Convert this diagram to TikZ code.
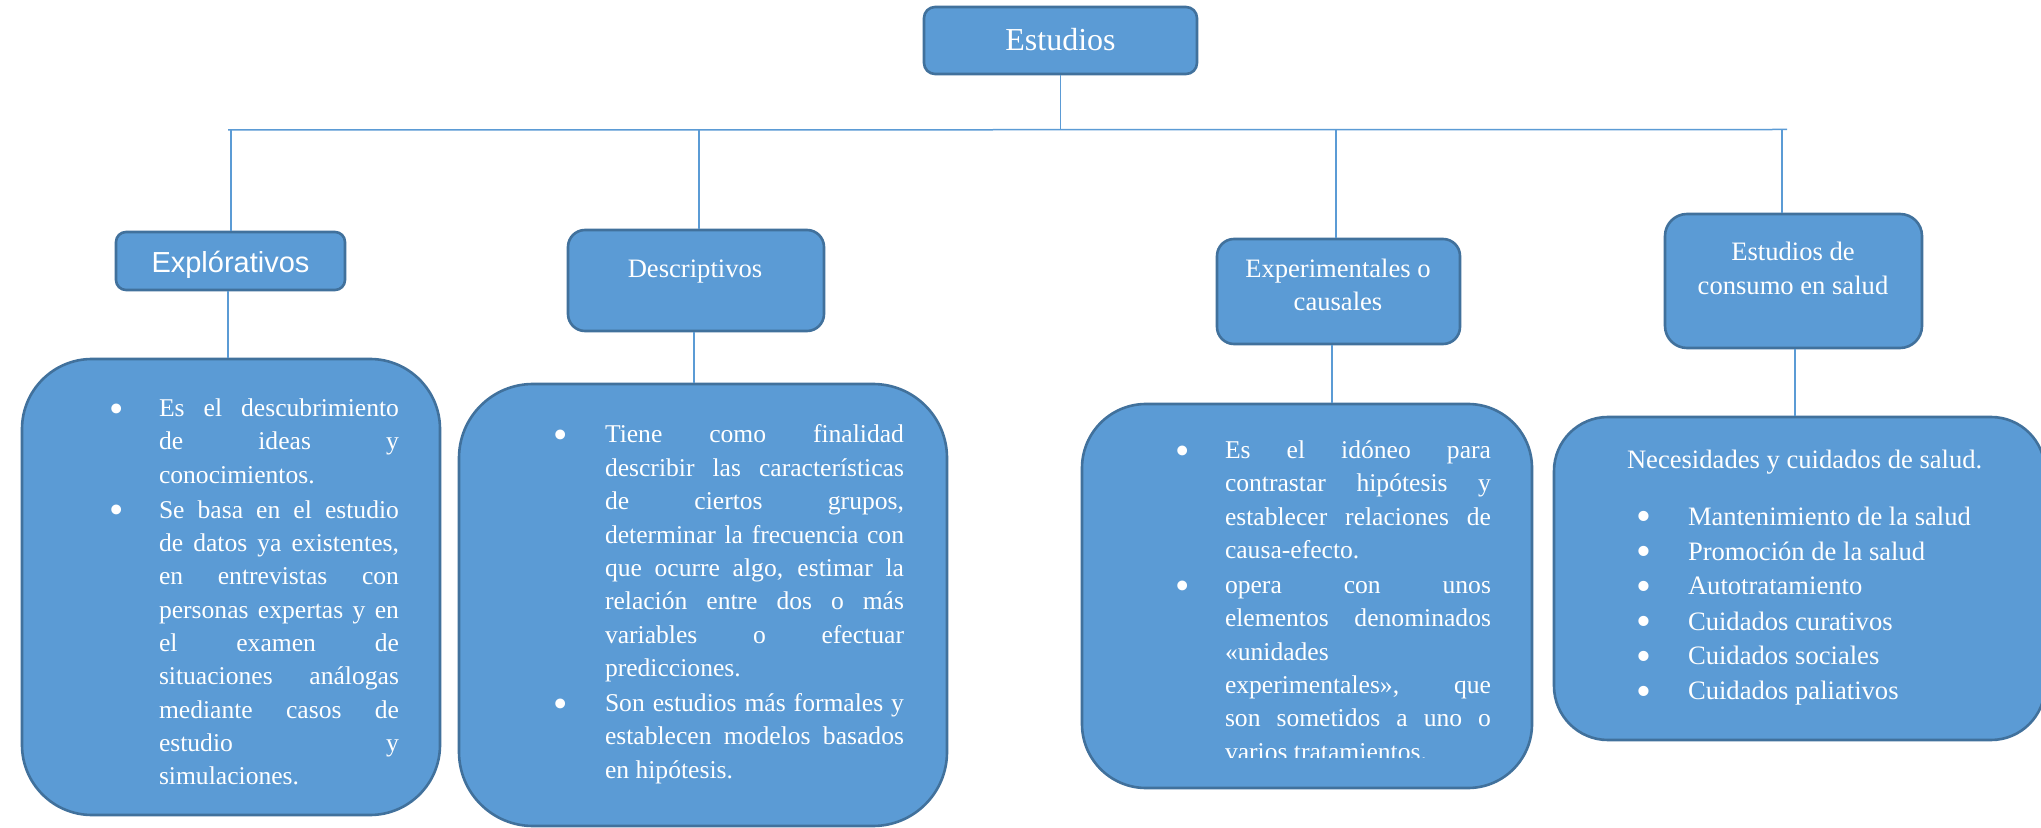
\documentclass[tikz,border=0pt]{standalone}
\usepackage{fontspec}
\usepackage{graphicx}
\setmainfont{Liberation Serif}
\newfontfamily\arialf{Liberation Sans}
\definecolor{bfill}{RGB}{91,155,213}
\definecolor{bdraw}{RGB}{65,113,156}
\definecolor{conn}{RGB}{91,155,213}
\newlength\colw
\newcommand\bigbul{\raisebox{-0.22em}{\scalebox{1.6}{\textbullet}}}
\newcommand\jl[1]{\noindent\makebox[\colw][s]{#1}\par}
\newcommand\lastl[1]{\noindent #1\par}
\newcommand\bjl[2]{\noindent\llap{\bigbul\hspace{#1}}\makebox[\colw][s]{#2}\par}
\newcommand\blastl[2]{\noindent\llap{\bigbul\hspace{#1}}#2\par}
\tikzset{
  box/.style={draw=bdraw, fill=bfill, line width=1.3pt, inner sep=0pt},
  connline/.style={draw=conn, line width=0.75pt},
  txt/.style={text=white, inner sep=0pt, outer sep=0pt},
  body/.style={txt, font=\fontsize{12.8}{16.67}\selectfont},
  head/.style={txt, font=\fontsize{13.3}{16.5}\selectfont},
}
\begin{document}
\begin{tikzpicture}[x=0.5pt, y=-0.5pt]
\useasboundingbox (0,0) rectangle (2041,828);
\fill[white] (0,0) rectangle (2041,828);

% ---------- boxes ----------
\node[box, minimum width=136.5pt, minimum height=33.5pt, rounded corners=5.5pt] (est) at (1060.5,40.5) {};
\node[box, minimum width=114.5pt, minimum height=29pt, rounded corners=5pt] (expl) at (230.5,261) {};
\node[box, minimum width=128pt, minimum height=50.5pt, rounded corners=8.5pt] (desc) at (696,280.5) {};
\node[box, minimum width=121.5pt, minimum height=52.5pt, rounded corners=8.5pt] (expe) at (1338.5,291.5) {};
\node[box, minimum width=128.5pt, minimum height=67pt, rounded corners=11pt] (cons) at (1793.5,281) {};

\node[box, minimum width=209pt, minimum height=228pt, rounded corners=35pt] (explc) at (231,587) {};
\node[box, minimum width=244pt, minimum height=221pt, rounded corners=37pt] (descc) at (703,605) {};
\node[box, minimum width=225pt, minimum height=192pt, rounded corners=32pt] (expec) at (1307,596) {};
\node[box, minimum width=245.5pt, minimum height=161.5pt, rounded corners=27pt] (consc) at (1799.5,578.5) {};

% ---------- connectors ----------
\coordinate (bl) at (228,130);
\coordinate (br) at (1787,129.5);
\coordinate (j1) at (231,130);
\coordinate (j2) at (699,130);
\coordinate (j3) at (1336,129.5);
\coordinate (j4) at (1782,129.5);
\coordinate (k1) at (228,0);
\coordinate (k2) at (694,0);
\coordinate (k3) at (1332,0);
\coordinate (k4) at (1795,0);
\draw[connline] (bl) -- (br);
\draw[connline] (est.south) -- (est.south |- bl);
\draw[connline] (j1) -- (j1 |- expl.north);
\draw[connline] (j2) -- (j2 |- desc.north);
\draw[connline] (j3) -- (j3 |- expe.north);
\draw[connline] (j4) -- (j4 |- cons.north);
\draw[connline] (expl.south -| k1) -- (explc.north -| k1);
\draw[connline] (desc.south -| k2) -- (descc.north -| k2);
\draw[connline] (expe.south -| k3) -- (expec.north -| k3);
\draw[connline] (cons.south -| k4) -- (consc.north -| k4);

% ---------- header texts ----------
\node[txt, anchor=base, font=\fontsize{16}{19}\selectfont] (est-t) at (1060.5,51) {Estudios};
\node[txt, anchor=base, font=\arialf\fontsize{14.5}{17}\selectfont] (expl-t) at (230.5,273) {Explórativos};
\node[head, anchor=base] (desc-t) at (695,278) {Descriptivos};
\node[head, anchor=base] (expe-t) at (1338,278) {\parbox[t]{120pt}{\centering Experimentales o\\causales}};
\node[head, anchor=base, font=\fontsize{13.3}{17}\selectfont] (cons-t) at (1793,261) {\parbox[t]{125pt}{\centering Estudios de\\consumo en salud}};

% ---------- body texts ----------
\node[body, anchor=base west] (explc-t) at (159,416.5) {\parbox[t]{120pt}{\setlength\colw{120pt}%
\bjl{17.4pt}{Es el descubrimiento}
\jl{de ideas y}
\lastl{conocimientos.}
\vspace{0.85pt}
\bjl{17.4pt}{Se basa en el estudio}
\jl{de datos ya existentes,}
\jl{en entrevistas con}
\jl{personas expertas y en}
\jl{el examen de}
\jl{situaciones análogas}
\jl{mediante casos de}
\jl{estudio y}
\lastl{simulaciones.}}};

\node[body, anchor=base west] (descc-t) at (605,443) {\parbox[t]{149.5pt}{\setlength\colw{149.5pt}%
\bjl{18.4pt}{Tiene como finalidad}
\jl{describir las características}
\jl{de ciertos grupos,}
\jl{determinar la frecuencia con}
\jl{que ocurre algo, estimar la}
\jl{relación entre dos o más}
\jl{variables o efectuar}
\lastl{predicciones.}
\vspace{0.85pt}
\bjl{18.4pt}{Son estudios más formales y}
\jl{establecen modelos basados}
\lastl{en hipótesis.}}};

\begin{scope}
\clip (1082,404) rectangle (1532,757);
\node[body, anchor=base west] (expec-t) at (1225,458.5) {\parbox[t]{133pt}{\setlength\colw{133pt}%
\bjl{17.4pt}{Es el idóneo para}
\jl{contrastar hipótesis y}
\jl{establecer relaciones de}
\lastl{causa-efecto.}
\vspace{0.85pt}
\bjl{17.4pt}{opera con unos}
\jl{elementos denominados}
\lastl{«unidades}
\jl{experimentales», que}
\jl{son sometidos a uno o}
\lastl{varios tratamientos.}}};
\end{scope}

\node[txt, anchor=base west, font=\fontsize{13.3}{17.5}\selectfont] (consc-h) at (1627,469) {Necesidades y cuidados de salud.};
\node[txt, anchor=base west, font=\fontsize{13.3}{17.5}\selectfont] (consc-t) at (1688,525) {\parbox[t]{150pt}{%
\blastl{18.4pt}{Mantenimiento de la salud}
\blastl{18.4pt}{Promoción de la salud}
\blastl{18.4pt}{Autotratamiento}
\blastl{18.4pt}{Cuidados curativos}
\blastl{18.4pt}{Cuidados sociales}
\blastl{18.4pt}{Cuidados paliativos}}};
\end{tikzpicture}
\end{document}
